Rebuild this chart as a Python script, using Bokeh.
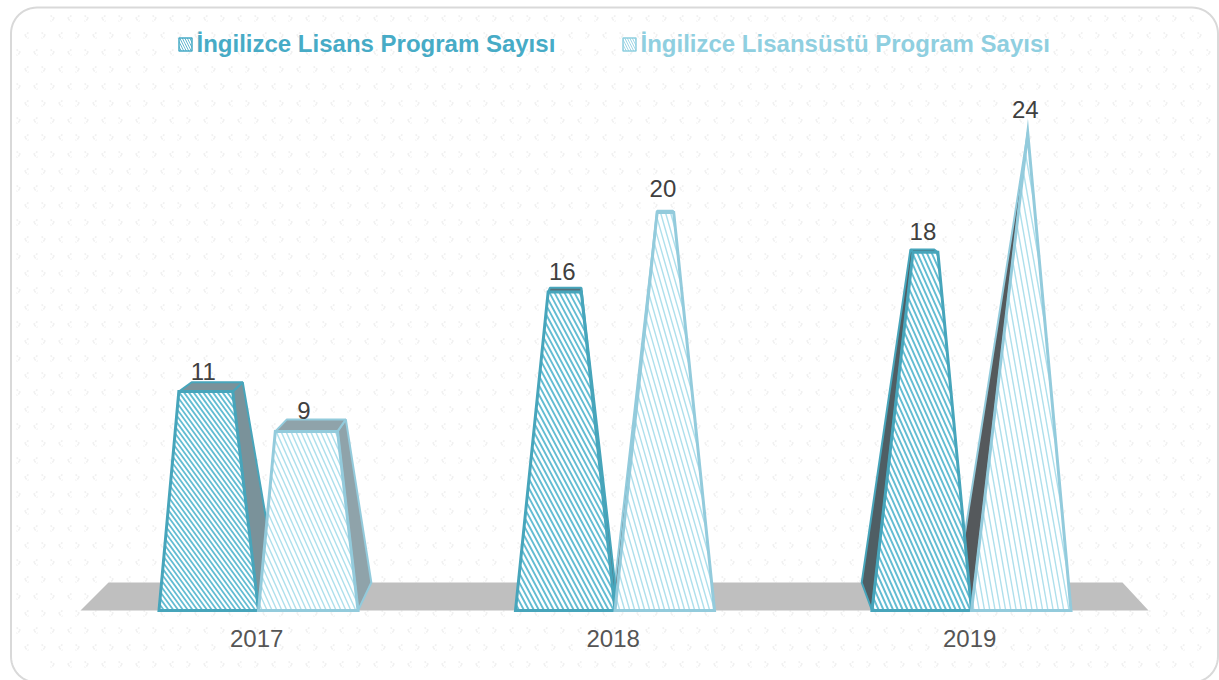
import math
from bokeh.plotting import figure
from bokeh.embed import file_html
from bokeh.resources import INLINE
from bokeh.core.properties import value
from bokeh.models import Range1d, LinearAxis, FixedTicker

years = ["2017", "2018", "2019"]
series_names = ["İngilizce Lisans Program Sayısı", "İngilizce Lisansüstü Program Sayısı"]
lisans = [11, 16, 18]
lisansustu = [9, 20, 24]
series_colors = ["#47a5bb", "#93cbdc"]
legend_colors = ["#47abc6", "#8fcfe0"]

W, H = 1219, 680
X0, Y0 = 0, 0
GX, GW = 356.5, 99.5      # group spacing and bar width in px
BASE = 610
PPU = 19.9               # px per value unit
XS = (X0 - 258) / GX
YMAX = (BASE - Y0) / PPU
YMIN = (BASE - (Y0 + H)) / PPU
VMAX = 24


def dx(px):
    return XS + (px - X0) / GX


def dy(py):
    return (BASE - py) / PPU


def convert(pts):
    return [dx(a) for a, _ in pts], [dy(b) for _, b in pts]


p = figure(width=W, height=H, x_range=Range1d(XS, XS + W / GX), y_range=Range1d(YMIN, YMAX),
           x_axis_type=None, y_axis_type=None, toolbar_location=None, output_backend="svg",
           min_border=0, outline_line_color=None, background_fill_color="white",
           border_fill_color="white")
p.xgrid.visible = False
p.ygrid.visible = False


def rounded_pts(x0, y0, x1, y1, r, n=14):
    out = []
    for cx, cy, a0 in [(x1 - r, y0 + r, -90), (x1 - r, y1 - r, 0), (x0 + r, y1 - r, 90), (x0 + r, y0 + r, 180)]:
        for i in range(n + 1):
            t = math.radians(a0 + 90 * i / n)
            out.append((cx + r * math.cos(t), cy + r * math.sin(t)))
    out.append(out[0])
    return out


# background texture: faint staggered chevrons
xs_bg, ys_bg = [], []
step = 17
row = 0
yy = 18
while yy < 676:
    xx = 18 + (step // 2 if row % 2 else 0)
    col = 0
    while xx < 1212:
        inside = not ((xx < 36 or xx > 1192) and (yy < 32 or yy > 655))
        if inside:
            s = 1 if (col + row) % 2 else -1
            pts = [(xx + s * 2, yy - 3), (xx - s * 2, yy), (xx + s * 2, yy + 3)]
            a, b = convert(pts)
            xs_bg.append(a)
            ys_bg.append(b)
        xx += step
        col += 1
    yy += step
    row += 1
p.multi_line(xs_bg, ys_bg, line_color="#f1f1f1", line_width=1.6, line_dash="2 1")

# card border
a, b = convert(rounded_pts(10.5, 7, 1217.5, 682, 26))
p.line(a, b, line_color="#d9d9d9", line_width=2)

# floor
a, b = convert([(80, BASE), (108, 582), (1122, 582), (1148, BASE)])
p.patch(a, b, fill_color="#bfbfbf", line_color=None)

VPX, VPY = 614, 72


def back_base(px, py):
    kx = 0.052 if px < VPX else 0.04
    return px + (VPX - px) * kx, py + (VPY - py) * 0.052


def bar_geometry(cx, v):
    t = v / VMAX
    apx = cx + (cx - 614) * 0.016
    apy = BASE - VMAX * PPU
    fl, fr = (cx - GW / 2, BASE), (cx + GW / 2, BASE)
    bl, br = back_base(*fl), back_base(*fr)
    lerp = lambda q: (q[0] + t * (apx - q[0]), q[1] + t * (apy - q[1]))
    ftl, ftr = lerp(fl), lerp(fr)
    by = 582 - 426 * t - 24 * t * t
    btl = (bl[0] + t * (apx - bl[0]), by)
    btr = (br[0] + t * (apx - br[0]), by)
    return dict(fl=fl, fr=fr, bl=bl, br=br, ftl=ftl, ftr=ftr, btl=btl, btr=btr, t=t)


def hatch_lines(poly, angle, spacing):
    th = math.radians(angle)
    d = (math.cos(th), math.sin(th))
    n = (-d[1], d[0])
    vals = [q[0] * n[0] + q[1] * n[1] for q in poly]
    xs, ys = [], []
    c = math.floor(min(vals) / spacing) * spacing
    while c < max(vals):
        hits = []
        for i in range(len(poly)):
            v0, v1 = vals[i] - c, vals[(i + 1) % len(poly)] - c
            if (v0 < 0) != (v1 < 0):
                u = v0 / (v0 - v1)
                q0, q1 = poly[i], poly[(i + 1) % len(poly)]
                hits.append((q0[0] + u * (q1[0] - q0[0]), q0[1] + u * (q1[1] - q0[1])))
        if len(hits) >= 2:
            a, b = convert(hits[:2])
            xs.append(a)
            ys.append(b)
        c += spacing
    return xs, ys


# per-bar look: (group, value, series, shading colour, hatch angle, spacing, hatch colour, hatch width)
bars = [
    (0, lisans[0], 0, "#7a929a", 54, 3.9, "#62bcd2", 1.8),
    (0, lisansustu[0], 1, "#8fa3aa", 66, 4.5, "#aee0ec", 1.4),
    (1, lisans[1], 0, "#56707a", 62, 4.4, "#62bcd2", 1.9),
    (1, lisansustu[1], 1, "#5a5f62", 74, 4.8, "#aee0ec", 1.4),
    (2, lisans[2], 0, "#4f5e64", 66, 4.4, "#62bcd2", 1.9),
    (2, lisansustu[2], 1, "#55595c", 80, 5.2, "#aee0ec", 1.4),
]

geoms = []
for gi, v, si, shade, ang, sp, hc, hw in bars:
    cx = 258 + gi * GX + (si - 0.5) * GW
    geoms.append((bar_geometry(cx, v), si, shade, ang, sp, hc, hw, cx))


def draw_sides(g, si, shade):
    col = series_colors[si]
    if g["fl"][0] < VPX:
        a, b = convert([g["fr"], g["br"], g["btr"], g["ftr"]])
    else:
        a, b = convert([g["fl"], g["bl"], g["btl"], g["ftl"]])
    p.patch(a, b, fill_color=shade, line_color=col, line_width=2)
    a, b = convert([g["ftl"], g["btl"], g["btr"], g["ftr"]])
    p.patch(a, b, fill_color=shade, line_color=col, line_width=2)


def draw_front(g, si, ang, sp, hc, hw):
    poly = [g["fl"], g["fr"], g["ftr"], g["ftl"]]
    a, b = convert(poly)
    p.patch(a, b, fill_color="white", line_color=None)
    hx, hy = hatch_lines(poly, ang, sp)
    p.multi_line(hx, hy, line_color=hc, line_width=hw)
    p.patch(a, b, fill_color=None, line_color=series_colors[si], line_width=3, line_join="miter")


for idx in [5, 3, 1, 0, 2, 4]:
    g, si, shade, *_ = geoms[idx]
    draw_sides(g, si, shade)
for idx in [4, 5, 0, 1, 2, 3]:
    g, si, shade, ang, sp, hc, hw, cx = geoms[idx]
    draw_front(g, si, ang, sp, hc, hw)

# value labels
lab_x, lab_y, lab_t = [], [], []
for g, si, shade, ang, sp, hc, hw, cx in geoms:
    v = round(g["t"] * VMAX)
    mid = (g["ftl"][0] + g["ftr"][0]) / 2
    lab_x.append(dx(mid - 2.5))
    lab_y.append(v + (1.2 if v >= 20 else 1.03))
    lab_t.append(str(v))
p.text(lab_x, lab_y, text=lab_t, text_font=value("Liberation Sans"), text_font_size="24px",
       text_color="#404040", text_align="center", text_baseline="middle")

# category axis
tick_pos = [-0.005, 0.995, 1.995]
axis = LinearAxis(fixed_location=0, ticker=FixedTicker(ticks=tick_pos),
                  major_label_overrides=dict(zip(tick_pos, years)),
                  axis_line_color=None, major_tick_line_color=None, minor_tick_line_color=None,
                  major_label_standoff=13, major_label_text_font="Liberation Sans",
                  major_label_text_font_size="24px", major_label_text_color="#555555")
p.add_layout(axis, "below")

# legend
for name, col, lx, sx in zip(series_names, legend_colors, [196, 640], [185, 629]):
    p.text([dx(lx)], [dy(42.5)], text=[name], text_font=value("Liberation Sans"), text_font_style="bold",
           text_font_size="24px", text_color=col, text_align="left", text_baseline="middle")
    p.scatter([dx(sx)], [dy(44)], marker="square", size=13, fill_color=col, line_color=col, line_width=1.5,
              hatch_pattern="left_diagonal_line", hatch_color="white", hatch_weight=1.5, hatch_scale=5)

open("out.html", "w").write(file_html(p, INLINE))
